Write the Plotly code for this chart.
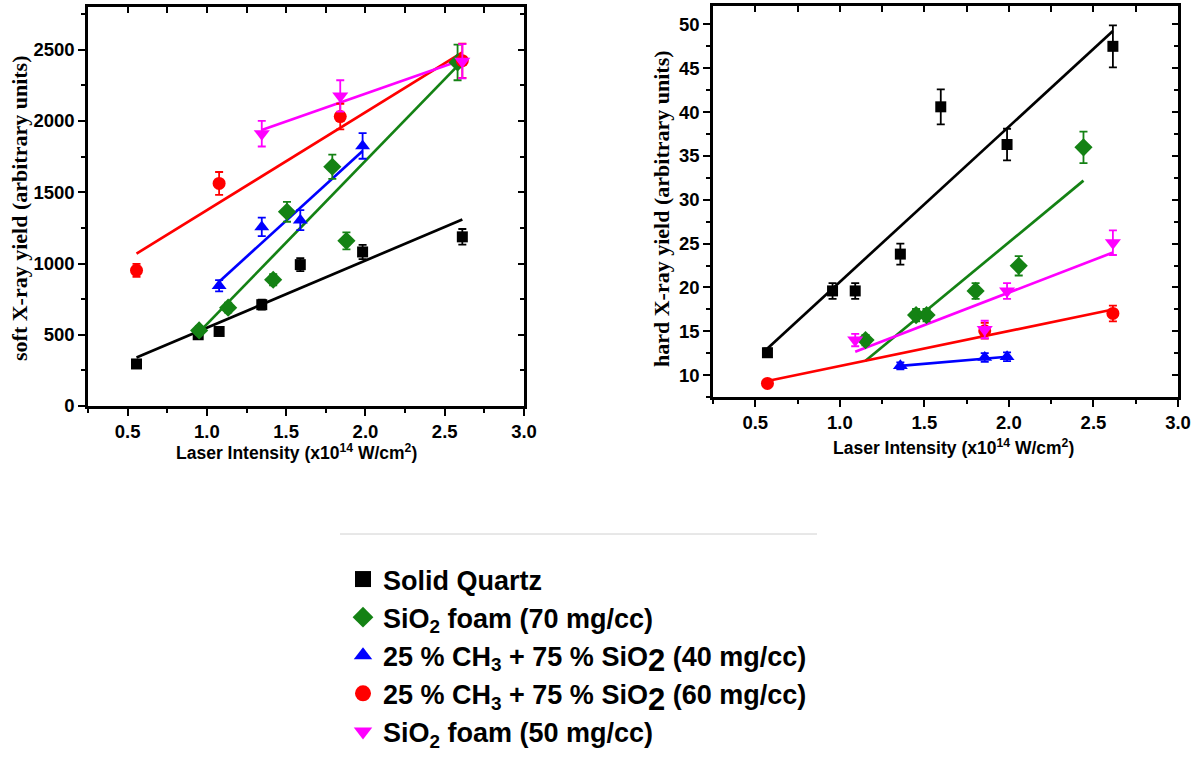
import plotly.graph_objects as go

# ---------------- data ----------------
big2 = "<span style='font-size:31px'>2</span>"
names = ["Solid Quartz",
         "SiO<sub>2</sub> foam (70 mg/cc)",
         "25 % CH<sub>3</sub> + 75 % SiO<sub>" + big2 + "</sub> (40 mg/cc)",
         "25 % CH<sub>3</sub> + 75 % SiO<sub>" + big2 + "</sub> (60 mg/cc)",
         "SiO<sub>2</sub> foam (50 mg/cc)"]
colors = ["#000000", "#148214", "#0000ff", "#ff0000", "#ff00ff"]
symbols = ["square", "diamond", "triangle-up", "circle", "triangle-down"]

# soft X-ray yield
soft_quartz_x = [0.556, 0.945, 1.077, 1.346, 1.589, 1.982, 2.611]
soft_quartz_y = [295, 500, 523, 711, 992, 1081, 1187]
soft_quartz_e = [25, 25, 25, 35, 45, 50, 55]
soft_foam70_x = [0.951, 1.134, 1.418, 1.505, 1.791, 1.880, 2.581]
soft_foam70_y = [530, 690, 886, 1363, 1679, 1159, 2411]
soft_foam70_e = [30, 35, 40, 70, 85, 60, 125]
soft_ch40_x = [1.077, 1.346, 1.589, 1.982]
soft_ch40_y = [844, 1257, 1304, 1825]
soft_ch40_e = [40, 65, 70, 90]
soft_ch60_x = [0.556, 1.077, 1.841, 2.611]
soft_ch60_y = [952, 1562, 2031, 2423]
soft_ch60_e = [45, 80, 90, 120]
soft_foam50_x = [1.346, 1.841, 2.611]
soft_foam50_y = [1911, 2176, 2420]
soft_foam50_e = [90, 110, 120]

# soft fit lines (end points)
soft_fit_x = [[0.556, 2.611], [0.945, 2.581], [1.077, 1.982], [0.556, 2.611], [1.346, 2.611]]
soft_fit_y = [[340, 1309], [511, 2387], [872, 1789], [1069, 2481], [1937, 2430]]

# hard X-ray yield
hard_quartz_x = [0.572, 0.957, 1.091, 1.358, 1.597, 1.989, 2.615]
hard_quartz_y = [12.55, 19.6, 19.6, 23.8, 40.6, 36.3, 47.5]
hard_quartz_e = [0.5, 0.9, 0.9, 1.2, 2.0, 1.8, 2.4]
hard_foam70_x = [1.152, 1.451, 1.513, 1.803, 2.058, 2.441]
hard_foam70_y = [13.99, 16.84, 16.84, 19.6, 22.46, 35.98]
hard_foam70_e = [0.6, 0.7, 0.7, 0.9, 1.1, 1.8]
hard_ch40_x = [1.358, 1.857, 1.989]
hard_ch40_y = [11.06, 12.01, 12.09]
hard_ch40_e = [0.4, 0.5, 0.5]
hard_ch60_x = [0.572, 1.857, 2.615]
hard_ch60_y = [9.05, 15.05, 17.03]
hard_ch60_e = [0.3, 0.9, 0.9]
hard_foam50_x = [1.091, 1.857, 1.989, 2.615]
hard_foam50_y = [13.99, 15.2, 19.6, 25.1]
hard_foam50_e = [0.7, 1.0, 0.9, 1.4]

hard_fit_x = [[0.572, 2.615], [1.152, 2.441], [1.358, 1.989], [0.572, 2.615], [1.091, 2.615]]
hard_fit_y = [[13.04, 49.24], [11.63, 32.18], [11.06, 12.09], [9.32, 17.48], [12.66, 23.98]]

x_ticks = [0.5, 1.0, 1.5, 2.0, 2.5, 3.0]
soft_ticks = [0, 500, 1000, 1500, 2000, 2500]
hard_ticks = [10, 15, 20, 25, 30, 35, 40, 45, 50]

soft_sets = [(soft_quartz_x, soft_quartz_y, soft_quartz_e),
             (soft_foam70_x, soft_foam70_y, soft_foam70_e),
             (soft_ch40_x, soft_ch40_y, soft_ch40_e),
             (soft_ch60_x, soft_ch60_y, soft_ch60_e),
             (soft_foam50_x, soft_foam50_y, soft_foam50_e)]
hard_sets = [(hard_quartz_x, hard_quartz_y, hard_quartz_e),
             (hard_foam70_x, hard_foam70_y, hard_foam70_e),
             (hard_ch40_x, hard_ch40_y, hard_ch40_e),
             (hard_ch60_x, hard_ch60_y, hard_ch60_e),
             (hard_foam50_x, hard_foam50_y, hard_foam50_e)]

# ---------------- layout helpers ----------------
W, H = 1200, 761
def px(x):
    return x / W
def py(y):
    return 1 - y / H

marker_sizes = [11, 14, 13, 13, 14]

fig = go.Figure()

def add_panel(sets, fit_x, fit_y, xa, ya):
    for i, (xs, ys, es) in enumerate(sets):
        fig.add_trace(go.Scatter(x=fit_x[i], y=fit_y[i], mode="lines",
                                 line=dict(color=colors[i], width=2.7),
                                 xaxis=xa, yaxis=ya, showlegend=False, hoverinfo="skip"))
    for i, (xs, ys, es) in enumerate(sets):
        fig.add_trace(go.Scatter(x=xs, y=ys, mode="markers",
                                 marker=dict(symbol=symbols[i], size=marker_sizes[i], color=colors[i]),
                                 error_y=dict(type="data", array=es, visible=True,
                                              color=colors[i], thickness=1.8, width=4),
                                 xaxis=xa, yaxis=ya, showlegend=False))

add_panel(soft_sets, soft_fit_x, soft_fit_y, "x", "y")
add_panel(hard_sets, hard_fit_x, hard_fit_y, "x2", "y2")

# legend entries
for i in range(5):
    fig.add_trace(go.Scatter(x=[None], y=[None], mode="markers", name=names[i],
                             marker=dict(symbol=symbols[i], size=16, color=colors[i]),
                             xaxis="x", yaxis="y", showlegend=True))

tickfont = dict(family="Arial, Liberation Sans, sans-serif", size=18.5, color="black", weight="bold")

L = dict(x0=88, x1=524, y0=7, y1=406)
R = dict(x0=713, x1=1178, y0=6, y1=397)

def xaxis(box, anchor):
    return dict(domain=[px(box["x0"]), px(box["x1"])], range=[0.25, 3.0], anchor=anchor,
                tickvals=x_ticks, ticktext=["%.1f" % v for v in x_ticks],
                ticks="outside", ticklen=7, tickwidth=2, tickcolor="black",
                minor=dict(dtick=0.25, tick0=0.25, ticks="outside", ticklen=4, tickwidth=2, tickcolor="black"),
                showline=True, linewidth=2.5, linecolor="black", showgrid=False, zeroline=False,
                tickfont=tickfont, automargin=False, fixedrange=True)

def yaxis(box, anchor, rng, tv, minor_dt):
    return dict(domain=[py(box["y1"]), py(box["y0"])], range=rng, anchor=anchor,
                tickvals=tv, ticktext=["%d" % v for v in tv],
                ticks="outside", ticklen=7, tickwidth=2, tickcolor="black",
                minor=dict(dtick=minor_dt, tick0=0, ticks="outside", ticklen=4, tickwidth=2, tickcolor="black"),
                showline=True, linewidth=2.5, linecolor="black", showgrid=False, zeroline=False,
                tickfont=tickfont, automargin=False, fixedrange=True)

def mirror_x(box, over, anchor):
    return dict(domain=[px(box["x0"]), px(box["x1"])], range=[0.25, 3.0], overlaying=over, anchor=anchor,
                side="top", tickvals=x_ticks, ticks="inside", ticklen=6, tickwidth=2, tickcolor="black",
                minor=dict(dtick=0.25, tick0=0.25, ticks="inside", ticklen=6, tickwidth=2, tickcolor="black"),
                showticklabels=False, showline=True, linewidth=2.5, linecolor="black",
                showgrid=False, zeroline=False, automargin=False, fixedrange=True)

def mirror_y(box, over, anchor, rng, tv, minor_dt):
    return dict(domain=[py(box["y1"]), py(box["y0"])], range=rng, overlaying=over, anchor=anchor,
                side="right", tickvals=tv, ticks="inside", ticklen=6, tickwidth=2, tickcolor="black",
                minor=dict(dtick=minor_dt, tick0=0, ticks="inside", ticklen=4, tickwidth=2, tickcolor="black"),
                showticklabels=False, showline=True, linewidth=2.5, linecolor="black",
                showgrid=False, zeroline=False, automargin=False, fixedrange=True)

soft_range = [0, 2800]
hard_range = [7.5, 52.1]

fig.update_layout(
    width=W, height=H,
    margin=dict(l=0, r=0, t=0, b=0),
    paper_bgcolor="white", plot_bgcolor="white",
    xaxis=xaxis(L, "y"),
    yaxis=yaxis(L, "x", soft_range, soft_ticks, 250),
    xaxis2=xaxis(R, "y2"),
    yaxis2=yaxis(R, "x2", hard_range, hard_ticks, 2.5),
    xaxis3=mirror_x(L, "x", "y3"),
    yaxis3=mirror_y(L, "y", "x3", soft_range, soft_ticks, 250),
    xaxis4=mirror_x(R, "x2", "y4"),
    yaxis4=mirror_y(R, "y2", "x4", hard_range, hard_ticks, 2.5),
    showlegend=True,
    legend=dict(x=px(343), y=py(555), xanchor="left", yanchor="top",
                font=dict(family="Arial, Liberation Sans, sans-serif", size=27, color="black", weight="bold"),
                bgcolor="rgba(0,0,0,0)", tracegroupgap=0, itemsizing="trace"),
)

# dummy traces so the mirror axes render
fig.add_trace(go.Scatter(x=[None], y=[None], xaxis="x3", yaxis="y3", showlegend=False))
fig.add_trace(go.Scatter(x=[None], y=[None], xaxis="x4", yaxis="y4", showlegend=False))

titlefont_y = dict(family="Liberation Serif, Times New Roman, serif", size=22, color="black", weight="bold")
titlefont_x = dict(family="Arial, Liberation Sans, sans-serif", size=17.5, color="black", weight="bold")

fig.add_annotation(text="soft X-ray yield (arbitrary units)", x=px(19), y=py(208),
                   xanchor="center", yanchor="middle",
                   xref="paper", yref="paper", textangle=-90, showarrow=False, font=titlefont_y)
fig.add_annotation(text="hard X-ray yield (arbitrary units)", x=px(661), y=py(209),
                   xanchor="center", yanchor="middle",
                   xref="paper", yref="paper", textangle=-90, showarrow=False, font=titlefont_y)
fig.add_annotation(text="Laser Intensity (x10<sup>14</sup> W/cm<sup>2</sup>)", x=px(296), y=py(452),
                   xanchor="center", yanchor="middle",
                   xref="paper", yref="paper", showarrow=False, font=titlefont_x)
fig.add_annotation(text="Laser Intensity (x10<sup>14</sup> W/cm<sup>2</sup>)", x=px(953), y=py(447),
                   xanchor="center", yanchor="middle",
                   xref="paper", yref="paper", showarrow=False, font=titlefont_x)

fig.add_shape(type="line", xref="paper", yref="paper", x0=px(340), x1=px(817), y0=py(534), y1=py(534),
              line=dict(color="#d0d0d0", width=1))

fig.write_html("out.html", config={"displayModeBar": False},
               post_script="document.body.style.margin='0px';")
